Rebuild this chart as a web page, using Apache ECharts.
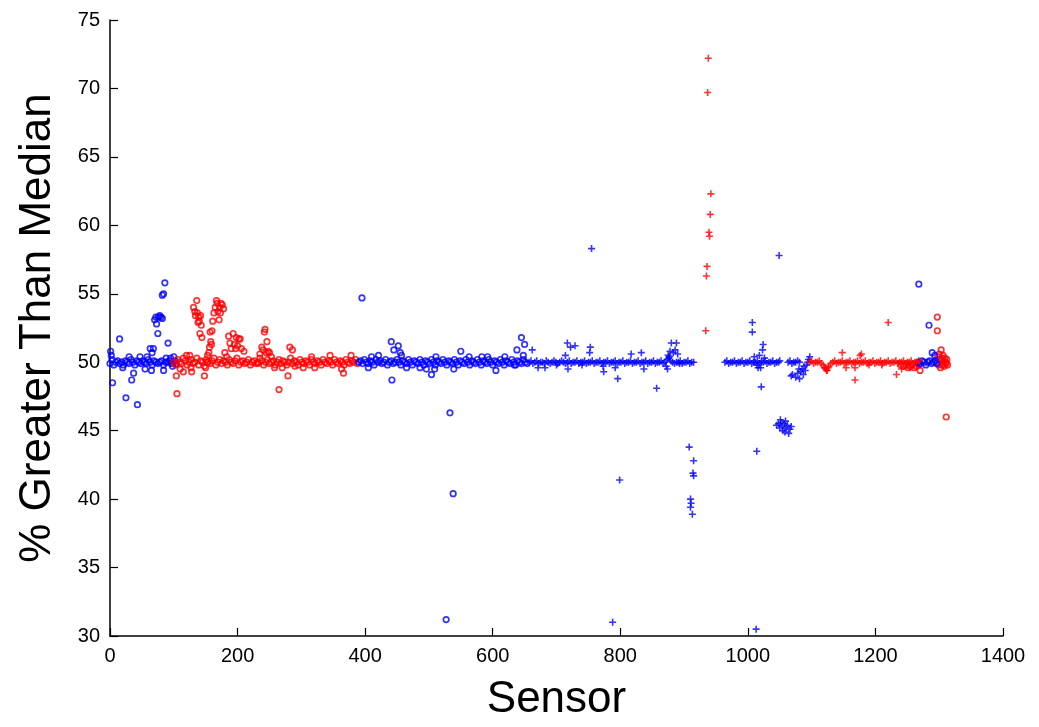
<!DOCTYPE html>
<html><head><meta charset="utf-8">
<script src="https://cdn.jsdelivr.net/npm/echarts@6/dist/echarts.min.js"></script>
<style>html,body{margin:0;padding:0;background:#fff;overflow:hidden}#c{width:1039px;height:727px}</style>
</head><body><div id="c"></div>
<script>
// ---- data: [sensor, % greater than median] ----
const xTicks = [0,200,400,600,800,1000,1200,1400];
const yTicks = [30,35,40,45,50,55,60,65,70,75];

const blueCircleBandA = [[0,49.9],[3,50.2],[6,49.8],[9,50.0],[12,50.1],[15,49.9],[18,50.0],[21,49.8],[24,50.1],[27,50.0],[30,49.9],[33,50.2],[36,50.0],[39,49.8],[42,50.1],[45,50.0],[48,49.9],[51,50.1],[54,50.0],[57,49.9],[60,50.2],[63,50.0],[66,49.8],[69,50.1],[72,50.0],[75,49.9],[78,50.0],[81,50.1],[84,49.8],[87,50.0],[90,50.0],[93,50.1],[96,49.9],[99,50.0],[102,50.1]];
const blueCircleOutA = [[1,50.8],[2,50.5],[4,48.5],[15,51.7],[20,49.6],[25,47.4],[30,50.4],[34,48.7],[37,49.2],[43,46.9],[47,50.4],[55,49.5],[58,50.4],[63,51.0],[65,49.4],[66,50.7],[68,51.0],[70,53.1],[72,53.3],[73,52.8],[75,52.1],[76,53.3],[78,53.4],[80,53.3],[82,53.2],[82,54.9],[84,55.0],[86,55.8],[84,49.4],[88,50.3],[91,51.4],[95,50.3],[98,49.7],[100,50.4],[104,49.9]];
const blueCircleBandB = [[390,50.0],[393,50.1],[396,49.9],[399,50.2],[402,50.0],[405,49.9],[408,50.1],[411,50.0],[414,49.8],[417,50.2],[420,50.0],[423,50.1],[426,49.9],[429,50.0],[432,50.2],[435,49.8],[438,50.0],[441,50.1],[444,49.9],[447,50.0],[450,50.2],[453,50.0],[456,49.8],[459,50.1],[462,50.0],[465,49.9],[468,50.2],[471,50.0],[474,49.8],[477,50.1],[480,50.0],[483,49.9],[486,50.2],[489,50.0],[492,49.8],[495,50.1],[498,50.0],[501,49.9],[504,50.2],[507,50.0],[510,49.8],[513,50.1],[516,50.0],[519,49.9],[522,50.2],[525,50.0],[528,49.8],[531,50.1],[534,50.0],[537,49.9],[540,50.2],[543,50.0],[546,49.8],[549,50.1],[552,50.0],[555,49.9],[558,50.2],[561,50.0],[564,49.8],[567,50.1],[570,50.0],[573,49.9],[576,50.2],[579,50.0],[582,49.8],[585,50.1],[588,50.0],[591,49.9],[594,50.2],[597,50.0],[600,49.8],[603,50.1],[606,50.0],[609,49.9],[612,50.2],[615,50.0],[618,49.8],[621,50.1],[624,50.0],[627,49.9],[630,50.2],[633,50.0],[636,49.8],[639,50.1],[642,50.0],[645,49.9],[648,50.2],[651,50.0],[654,49.9]];
const blueCircleOutB = [[395,54.7],[405,49.6],[410,50.4],[421,50.5],[441,51.5],[442,48.7],[445,50.9],[452,51.2],[455,50.7],[457,50.5],[465,49.6],[486,49.6],[496,49.5],[504,49.1],[509,49.5],[511,50.4],[527,31.2],[533,46.3],[538,40.4],[539,49.5],[550,50.8],[563,50.4],[583,50.4],[592,50.4],[605,49.4],[619,50.4],[634,49.8],[638,50.9],[645,51.8],[648,50.5],[650,51.3]];
const blueCircleC = [[1267,50.0],[1270,49.9],[1273,50.1],[1276,50.0],[1279,49.8],[1282,50.0],[1285,50.1],[1288,49.9],[1291,50.0],[1293,50.5],[1294,50.1],[1296,49.9],[1268,55.7],[1284,52.7],[1289,50.7]];

const redCircleBand = [[100,50.0],[103,49.8],[106,50.2],[109,50.0],[112,49.9],[115,50.3],[118,50.1],[121,49.8],[124,50.0],[127,50.2],[130,49.9],[133,50.0],[136,50.3],[139,49.8],[142,50.1],[145,50.0],[148,49.7],[151,50.2],[154,50.0],[157,49.9],[160,50.1],[163,50.3],[166,49.8],[169,50.0],[172,50.2],[175,49.9],[178,50.1],[181,50.0],[184,49.8],[187,50.2],[190,50.0],[193,49.9],[196,50.1],[199,50.3],[202,49.8],[205,50.0],[208,50.1],[211,49.9],[214,50.0],[217,50.2],[220,49.8],[223,50.0],[226,50.1],[229,49.9],[232,50.0],[235,50.3],[238,50.1],[241,49.8],[244,50.0],[247,50.2],[250,49.9],[253,50.0],[256,50.1],[259,49.8],[262,50.0],[265,50.2],[268,49.9],[271,50.1],[274,50.0],[277,49.8],[280,50.0],[283,50.3],[286,49.9],[289,50.1],[292,50.0],[295,49.8],[298,50.2],[301,50.0],[304,49.9],[307,50.1],[310,50.0],[313,49.8],[316,50.2],[319,50.0],[322,49.9],[325,50.1],[328,50.0],[331,49.8],[334,50.2],[337,50.0],[340,49.9],[343,50.1],[346,50.0],[349,49.8],[352,50.2],[355,50.0],[358,49.9],[361,50.1],[364,50.0],[367,49.8],[370,50.2],[373,50.0],[376,49.9],[379,50.1],[382,50.0],[385,50.2],[388,49.9]];
const redCircleOut = [[104,49.0],[105,47.7],[110,49.5],[115,49.3],[120,50.5],[125,50.5],[127,49.6],[128,49.3],[131,54.0],[133,53.7],[134,53.4],[136,54.5],[137,53.6],[138,52.9],[139,53.3],[140,53.0],[141,52.1],[142,53.4],[143,52.7],[144,51.8],[148,49.0],[150,49.6],[152,50.0],[153,50.5],[155,50.7],[156,51.1],[157,52.2],[158,51.5],[159,51.3],[160,52.3],[161,53.0],[163,53.6],[165,54.0],[167,54.5],[168,54.3],[169,53.7],[171,53.1],[172,54.0],[173,53.6],[174,54.3],[176,54.2],[178,53.9],[180,50.7],[183,50.4],[186,51.9],[188,51.4],[190,51.0],[193,52.1],[195,51.3],[197,51.0],[198,51.8],[200,51.2],[202,51.7],[204,51.7],[206,51.0],[210,50.8],[232,49.9],[235,50.6],[238,51.1],[240,50.9],[242,52.2],[243,52.4],[245,50.7],[246,51.5],[248,50.8],[250,50.7],[253,50.4],[258,49.6],[265,48.0],[270,49.6],[279,49.0],[282,51.1],[286,50.9],[290,49.7],[303,49.6],[316,50.4],[321,49.6],[345,50.5],[363,49.5],[366,49.2],[378,50.5]];
const redCircleEnd = [[1240,49.8],[1244,49.7],[1248,49.8],[1251,49.6],[1254,49.7],[1258,49.8],[1261,49.6],[1264,49.7],[1268,49.8],[1270,49.4],[1296,50.0],[1298,50.4],[1299,49.8],[1300,50.6],[1301,50.2],[1302,49.6],[1303,50.9],[1304,50.3],[1305,49.8],[1306,50.5],[1307,50.1],[1308,49.7],[1309,50.3],[1310,50.0],[1311,49.9],[1312,50.2],[1313,49.8],[1297,53.3],[1297,52.3],[1311,46.0]];

const bluePlusBandA = [[657,50.0],[660,50.1],[663,49.9],[666,50.0],[669,50.1],[672,49.9],[675,50.0],[678,50.0],[681,49.9],[684,50.1],[687,50.0],[690,49.9],[693,50.0],[696,50.1],[699,50.0],[702,49.9],[705,50.0],[708,50.1],[711,50.0],[714,49.9],[717,50.0],[720,50.1],[723,49.9],[726,50.0],[729,50.0],[732,50.1],[735,49.9],[738,50.0],[741,50.0],[744,50.1],[747,49.9],[750,50.0],[753,50.0],[756,50.1],[759,49.9],[762,50.0],[765,50.0],[768,50.1],[771,49.9],[774,50.0],[777,50.0],[780,50.1],[783,49.9],[786,50.0],[789,50.0],[792,50.1],[795,49.9],[798,50.0],[801,50.0],[804,50.1],[807,49.9],[810,50.0],[813,50.0],[816,50.1],[819,49.9],[822,50.0],[825,50.0],[828,50.1],[831,49.9],[834,50.0],[837,50.0],[840,50.1],[843,49.9],[846,50.0],[849,50.0],[852,50.1],[855,49.9],[858,50.0],[861,50.0],[864,50.1],[867,49.9],[870,50.0],[873,50.2],[876,50.3],[879,50.1],[882,50.0],[885,49.9],[888,50.0],[891,50.0],[894,50.1],[897,49.9],[900,50.0],[903,50.0],[906,50.1],[909,49.9],[912,50.0],[915,50.0]];
const bluePlusOutA = [[662,50.9],[671,49.6],[682,49.6],[700,49.8],[714,50.5],[717,51.4],[718,49.5],[722,51.1],[729,51.2],[740,49.8],[752,50.7],[753,51.1],[755,58.3],[773,49.7],[774,49.3],[788,31.0],[792,49.6],[796,48.8],[799,41.4],[817,50.6],[833,50.7],[837,49.5],[857,48.1],[872,49.7],[874,49.5],[875,50.5],[877,50.4],[878,50.8],[880,51.4],[883,50.7],[886,50.9],[888,51.4],[890,50.6],[893,49.9],[908,43.8],[910,40.0],[911,39.7],[910,39.4],[913,38.9],[914,41.9],[915,41.7],[915,42.8]];
const bluePlusBandB = [[964,50.0],[967,50.1],[970,49.9],[973,50.0],[976,50.0],[979,50.1],[982,49.9],[985,50.0],[988,50.0],[991,50.1],[994,49.9],[997,50.0],[1000,50.0],[1003,50.1],[1006,49.9],[1009,50.0],[1012,50.0],[1015,50.1],[1018,49.9],[1021,50.0],[1024,50.0],[1027,50.1],[1030,49.9],[1033,50.0],[1036,50.0],[1039,50.1],[1042,49.9],[1045,50.0],[1048,50.0],[1050,50.1],[1063,50.0],[1066,50.1],[1069,49.9],[1072,50.0],[1075,50.0],[1078,50.1],[1081,50.0]];
const bluePlusOutB = [[1007,52.9],[1007,52.2],[1010,50.4],[1013,30.5],[1014,43.5],[1014,49.8],[1016,49.6],[1018,50.5],[1020,49.6],[1021,48.2],[1023,50.9],[1024,51.3],[1026,50.3],[1049,57.8],[1045,45.4],[1048,45.5],[1050,45.2],[1051,45.8],[1052,45.6],[1054,45.3],[1055,45.0],[1057,45.5],[1058,44.9],[1059,45.7],[1060,45.2],[1062,45.4],[1064,44.8],[1066,45.1],[1068,45.3],[1068,49.0],[1070,49.1],[1075,48.9],[1078,49.2],[1080,49.5],[1081,48.8],[1083,49.3],[1085,49.5],[1087,49.1],[1088,49.7],[1090,49.4],[1092,49.8],[1094,50.0],[1095,50.2],[1097,50.4]];

const redPlusBand = [[1097,50.0],[1100,50.1],[1103,49.9],[1106,50.0],[1109,50.0],[1112,50.1],[1115,49.9],[1118,49.8],[1121,49.6],[1124,49.4],[1127,49.7],[1130,49.9],[1133,50.0],[1136,50.1],[1139,49.9],[1142,50.0],[1145,50.0],[1148,50.1],[1151,49.9],[1154,50.0],[1157,50.0],[1160,50.1],[1163,49.9],[1166,50.0],[1169,50.0],[1172,50.1],[1175,49.9],[1178,50.0],[1181,50.0],[1184,50.1],[1187,49.9],[1190,50.0],[1193,50.0],[1196,50.1],[1199,49.9],[1202,50.0],[1205,50.0],[1208,50.1],[1211,49.9],[1214,50.0],[1217,50.0],[1220,50.1],[1223,49.9],[1226,50.0],[1229,50.0],[1232,50.1],[1235,49.9],[1238,50.0],[1241,50.0],[1244,50.1],[1247,49.9],[1250,50.0],[1253,50.0],[1256,50.1],[1259,49.9],[1262,50.0],[1265,50.0],[1268,50.1]];
const redPlusOut = [[934,52.3],[935,56.3],[936,57.0],[937,69.7],[938,72.2],[939,59.5],[940,59.2],[941,60.8],[942,62.3],[1120,49.6],[1122,49.5],[1124,49.4],[1126,49.6],[1148,50.7],[1154,49.6],[1168,49.6],[1168,48.7],[1176,50.5],[1178,50.6],[1190,49.8],[1210,49.8],[1220,52.9],[1233,49.1],[1241,49.5],[1255,49.6]];

// ---- chart ----
const FONT = "'Liberation Sans', Arial, sans-serif";
const plusPath = 'path://M2.9,0H4.6V2.9H7.5V4.6H4.6V7.5H2.9V4.6H0V2.9H2.9Z';
const chart = echarts.init(document.getElementById('c'), null, {renderer:'canvas'});
function circ(name, data, col){
  return {name, type:'scatter', data, symbol:'circle', symbolSize:5.5,
    itemStyle:{color:'rgba(0,0,0,0)', borderColor:col, borderWidth:1.7}, z:2};
}
function plus(name, data, col){
  return {name, type:'scatter', data, symbol:plusPath, symbolSize:7,
    itemStyle:{color:col}, z:3};
}
const axisCommon = {
  axisLine:{show:true, onZero:false, lineStyle:{color:'#000', width:1.5}},
  axisTick:{show:true, inside:true, length:8, lineStyle:{color:'#000', width:1.2}},
  splitLine:{show:false},
  axisLabel:{color:'#000', fontSize:20, fontFamily:FONT, margin:10, formatter:v => String(v)},
  nameTextStyle:{color:'#000', fontSize:44, fontFamily:FONT}
};
chart.setOption({
  animation:false,
  backgroundColor:'#fff',
  grid:{left:110, right:36, top:20, bottom:88, containLabel:false},
  xAxis:Object.assign({type:'value', min:xTicks[0], max:xTicks[xTicks.length-1], interval:200,
    name:'Sensor', nameLocation:'middle', nameGap:42}, axisCommon),
  yAxis:Object.assign({type:'value', min:yTicks[0], max:yTicks[yTicks.length-1], interval:5,
    name:'% Greater Than Median', nameLocation:'middle', nameGap:50}, axisCommon),
  series:[
    circ('blueA', blueCircleBandA.concat(blueCircleOutA), '#0000ff'),
    circ('redA', redCircleBand.concat(redCircleOut), '#ff0000'),
    circ('blueB', blueCircleBandB.concat(blueCircleOutB), '#0000ff'),
    plus('bluePlusA', bluePlusBandA.concat(bluePlusOutA), '#0000ff'),
    plus('bluePlusB', bluePlusBandB.concat(bluePlusOutB), '#0000ff'),
    plus('redPlus', redPlusBand.concat(redPlusOut), '#ff0000'),
    circ('redEnd', redCircleEnd, '#ff0000'),
    circ('blueC', blueCircleC, '#0000ff')
  ]
});
</script></body></html>
